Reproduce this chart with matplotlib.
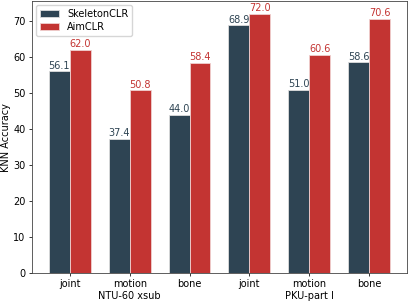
import matplotlib
matplotlib.use("Agg")
import matplotlib.pyplot as plt
import numpy as np

categories = ["joint", "motion\nNTU-60 xsub", "bone", "joint", "motion\nPKU-part I", "bone"]
skeletonclr = [56.1, 37.4, 44.0, 68.9, 51.0, 58.6]
aimclr = [62.0, 50.8, 58.4, 72.0, 60.6, 70.6]

c1 = "#2e4453"
c2 = "#c33432"
fs = 7.0

plt.rcParams["axes.linewidth"] = 0.6
plt.rcParams["xtick.major.size"] = 2.3
plt.rcParams["ytick.major.size"] = 2.3
plt.rcParams["xtick.major.width"] = 0.55
plt.rcParams["ytick.major.width"] = 0.55
plt.rcParams["xtick.major.pad"] = 2.3
plt.rcParams["ytick.major.pad"] = 2.3

fig = plt.figure(figsize=(4.09, 3.02), dpi=100)
ax = fig.add_axes([0.078, 0.096, 0.917, 0.900])
x = np.arange(len(categories))
w = 0.35
b1 = ax.bar(x - w/2, skeletonclr, w, color=c1, edgecolor="#dddddd", linewidth=0.6, label="SkeletonCLR")
b2 = ax.bar(x + w/2, aimclr, w, color=c2, edgecolor="#f0d0d0", linewidth=0.6, label="AimCLR")
for r, v in zip(b1, skeletonclr):
    ax.text(r.get_x() + r.get_width()/2, v + 0.2, f"{v:.1f}", ha="center", va="bottom", color=c1, fontsize=fs)
for r, v in zip(b2, aimclr):
    ax.text(r.get_x() + r.get_width()/2, v + 0.2, f"{v:.1f}", ha="center", va="bottom", color=c2, fontsize=fs)
ax.set_xticks(x)
ax.set_xticklabels(categories, fontsize=fs)
ax.tick_params(axis="y", labelsize=fs)
ax.set_ylim(0, 75.6)
ax.set_ylabel("KNN Accuracy", fontsize=fs)
ax.yaxis.set_label_coords(-0.056, 0.5)
for s in ax.spines.values():
    s.set_color("#444444")
ax.legend(loc="upper left", fontsize=fs, borderpad=0.4, labelspacing=0.3,
          borderaxespad=0.4, handlelength=2.0, handleheight=0.6)
fig.savefig("out.png", dpi=100)
